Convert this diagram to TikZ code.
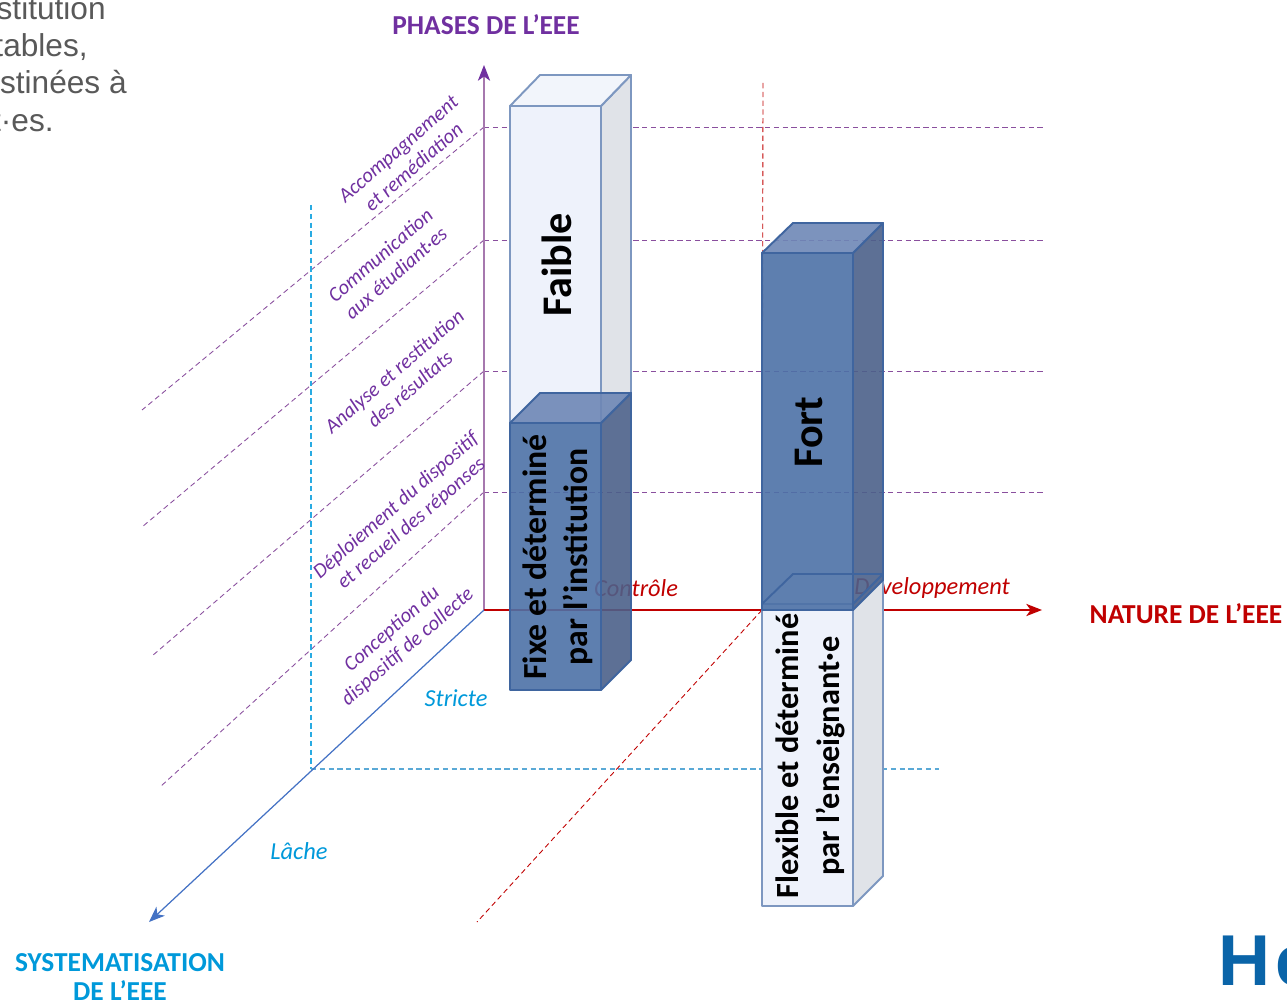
\documentclass[tikz,border=0pt]{standalone}
\usepackage{fontspec}
\setmainfont{Carlito}
\newfontfamily\arialfont{Liberation Sans}
\usetikzlibrary{arrows.meta}
\definecolor{phasecol}{HTML}{7030A0}
\definecolor{phasedash}{HTML}{8A4F9E}
\definecolor{axiscol}{HTML}{A678AE}
\definecolor{naturecol}{HTML}{C00000}
\definecolor{systcol}{HTML}{0099DA}
\definecolor{systdash}{HTML}{29ABE2}
\definecolor{systfloor}{HTML}{5AA9D6}
\definecolor{systaxis}{HTML}{4472C4}
\definecolor{edgecol}{HTML}{3F659F}
\definecolor{lightedge}{HTML}{7D97C0}
\definecolor{lightfront}{HTML}{EEF2FB}
\definecolor{lightside}{HTML}{E0E3E8}
\definecolor{lighttop}{HTML}{F2F5FB}
\definecolor{darkfront}{HTML}{4D71A6}
\definecolor{darkside}{HTML}{4B608A}
\definecolor{darktop}{HTML}{6E87B6}
\tikzset{
  phaseline/.style={densely dashed,draw=phasedash,line width=0.5pt},
  phaselabel/.style={text=phasecol,rotate=41,align=center,inner sep=0pt,font=\fontsize{11.7}{13.5}\selectfont\itshape},
  scalelabel/.style={inner sep=0pt,font=\fontsize{13.9}{15}\selectfont\itshape},
  axistitle/.style={inner sep=0pt,align=center,font=\fontsize{15.6}{17}\selectfont\bfseries},
  barbig/.style={rotate=90,inner sep=0pt,font=\fontsize{24}{28}\selectfont\bfseries},
  barsmall/.style={rotate=90,inner sep=0pt,align=center,font=\fontsize{#1}{23.3}\selectfont\bfseries},
  cutline/.style={anchor=base east,inner sep=0pt,text=black!65,font=\arialfont\fontsize{18}{20}\selectfont},
  lightface/.style={draw=lightedge,line width=1.1pt,line join=round,fill=#1},
  darkface/.style={draw=edgecol,line width=1.1pt,line join=round,fill=#1,fill opacity=0.9},
}
\begin{document}
\begin{tikzpicture}[x=0.02cm,y=-0.02cm]
  \clip (0,0) rectangle (1287,1003);
  \draw
    (484,610) coordinate (origin)
    (484,65) coordinate (phasetip)
    (1042,610) coordinate (naturetip)
    (149,922) coordinate (systtip)
    (484,127) coordinate (p5) (1046,127) coordinate (p5e) (142,410) coordinate (p5w)
    (484,240) coordinate (p4) (1046,240) coordinate (p4e) (142,527) coordinate (p4w)
    (484,371) coordinate (p3) (1046,371) coordinate (p3e) (152,656) coordinate (p3w)
    (484,492) coordinate (p2) (1046,492) coordinate (p2e) (160,787) coordinate (p2w)
    (311,205) coordinate (laxtop) (311,769) coordinate (lax) (939,769) coordinate (laxe)
    (763,83) coordinate (devtop) (762,610) coordinate (dev) (477,922) coordinate (devw);
  \begin{scope}[phaseline]
    \draw (p5) to (p5e);
    \draw (p5) to (p5w);
    \draw (p4) to (p4e);
    \draw (p4) to (p4w);
    \draw (p3) to (p3e);
    \draw (p3) to (p3w);
    \draw (p2) to (p2e);
    \draw (p2) to (p2w);
  \end{scope}
  \begin{scope}[densely dashed,line width=0.6pt]
    \draw[draw=systdash] (laxtop) to (lax);
    \draw[draw=systfloor] (lax) to (laxe);
    \draw[draw=naturecol,line width=0.5pt] (devtop) to (dev);
    \draw[draw=naturecol,line width=0.5pt] (dev) to (devw);
  \end{scope}
  \begin{scope}[line width=0.7pt]
    \draw[axiscol,-{Stealth[length=9pt,width=7pt,inset=2.5pt,color=phasecol]}] (origin) to (phasetip);
    \draw[naturecol,-{Stealth[length=9pt,width=7pt,inset=2.5pt]}] (origin) to (naturetip);
    \draw[systaxis,-{Stealth[length=9pt,width=7pt,inset=2.5pt]}] (origin) to (systtip);
  \end{scope}
  \node[axistitle,text=phasecol] (phases) at (486,25) {PHASES DE L’EEE};
  \node[axistitle,text=naturecol] (nature) at (1186,614) {NATURE DE L’EEE};
  \node[axistitle,text=systcol] (syst) at (120,977) {SYSTEMATISATION\\DE L’EEE};
  \node[scalelabel,text=naturecol] (controle) at (636,588) {Contrôle};
  \node[scalelabel,text=naturecol] (developpement) at (932,588) {Développement};
  \node[scalelabel,text=systcol] (stricte) at (456,698) {Stricte};
  \node[scalelabel,text=systcol] (lache) at (299,851) {Lâche};
  \node[phaselabel] (accompagnement) at (406,158) {Accompagnement\\et remédiation};
  \node[phaselabel] (communication) at (388,264) {Communication\\aux étudiant·es};
  \node[phaselabel] (analyse) at (402,380) {Analyse et restitution\\des résultats};
  \node[phaselabel] (deploiement) at (404,515) {Déploiement du dispositif\\et recueil des réponses};
  \node[phaselabel] (conception) at (400,638) {Conception du\\dispositif de collecte};
  % boxes
  \filldraw[lightface={lightfront}] (510,106) -- (601,106) -- (601,423) -- (510,423) -- cycle;
  \filldraw[lightface={lightside}] (601,106) -- (631,75) -- (631,393) -- (601,423) -- cycle;
  \filldraw[lightface={lighttop}] (510,106) -- (540,75) -- (631,75) -- (601,106) -- cycle;
  \filldraw[darkface={darkfront}] (510,423) -- (601,423) -- (601,690) -- (510,690) -- cycle;
  \filldraw[darkface={darkside}] (601,423) -- (631,393) -- (631,660) -- (601,690) -- cycle;
  \filldraw[darkface={darktop}] (510,423) -- (540,393) -- (631,393) -- (601,423) -- cycle;
  \filldraw[lightface={lightfront}] (762,604) -- (853,604) -- (853,906) -- (762,906) -- cycle;
  \filldraw[lightface={lightside}] (853,604) -- (883,574) -- (883,876) -- (853,906) -- cycle;
  \filldraw[darkface={darkfront}] (762,253) -- (853,253) -- (853,610) -- (762,610) -- cycle;
  \filldraw[darkface={darkside}] (853,253) -- (883,223) -- (883,580) -- (853,610) -- cycle;
  \filldraw[darkface={darktop}] (762,253) -- (793,223) -- (883,223) -- (853,253) -- cycle;
  \draw[edgecol,line width=1.1pt,line join=round] (762,604) -- (793,574) -- (883,574) -- (853,604);
  \node[barbig] (faible) at (557,265) {Faible};
  \node[barbig] (fort) at (809,432) {Fort};
  \node[barsmall=19.2] (fixe) at (558,557) {Fixe et déterminé\\par l’institution};
  \node[barsmall=18.4] (flexible) at (810,756) {Flexible et déterminé\\par l’enseignant·e};
  % cut text and logo at the page edges
  \node[cutline] (cut1) at (106,20) {stitution};
  \node[cutline] (cut2) at (88,57) {tables,};
  \node[cutline] (cut3) at (127,94) {stinées à};
  \node[cutline] (cut4) at (54,132) {t·es.};
  \node[anchor=base west,inner sep=0pt,text={rgb,255:red,10;green,100;blue,168},font=\arialfont\bfseries\fontsize{41}{42}\selectfont] (logo) at (1218,985) {H\kern3pt e};
\end{tikzpicture}
\end{document}
